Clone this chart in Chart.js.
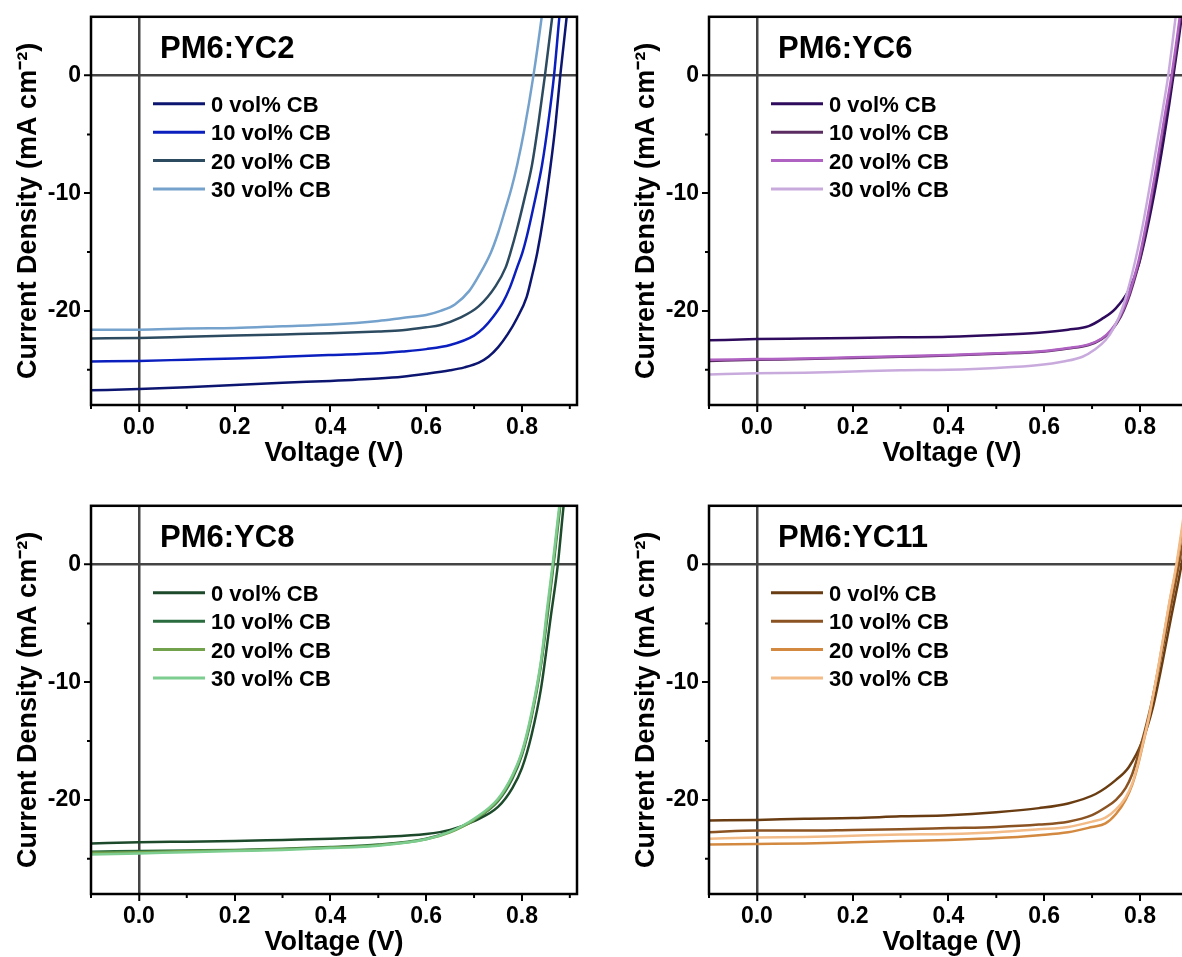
<!DOCTYPE html>
<html>
<head>
<meta charset="utf-8">
<title>J–V curves, PM6:YC blends with CB additive</title>
<script src="https://cdn.jsdelivr.net/npm/chart.js@4.4.1/dist/chart.umd.min.js"></script>
<style>
  html, body { margin: 0; padding: 0; background: #fff; overflow: hidden; width: 1182px; height: 957px; }
  .panel { position: absolute; width: 600px; height: 480px; }
  .panel canvas { display: block; }
</style>
</head>
<body>
<div class="panel" style="left:0px;top:0px"><canvas id="cYC2" width="600" height="480"></canvas></div>
<div class="panel" style="left:618px;top:0px"><canvas id="cYC6" width="600" height="480"></canvas></div>
<div class="panel" style="left:0px;top:489px"><canvas id="cYC8" width="600" height="480"></canvas></div>
<div class="panel" style="left:618px;top:489px"><canvas id="cYC11" width="600" height="480"></canvas></div>
<script>
// ---- series names and axis ticks ----
const seriesLabels = ['0 vol% CB', '10 vol% CB', '20 vol% CB', '30 vol% CB'];
const xTickValues = [0.0, 0.2, 0.4, 0.6, 0.8];
const xTickLabels = ['0.0', '0.2', '0.4', '0.6', '0.8'];
const xMinorTicks = [-0.1, 0.1, 0.3, 0.5, 0.7, 0.9];
const yTickValues = [0, -10, -20];
const yTickLabels = ['0', '-10', '-20'];
const yMinorTicks = [-5, -15, -25];

// ---- PM6:YC2 (voltage in V, current density in mA cm-2) ----
const yc2V0 = [-0.1, 0, 0.1, 0.2, 0.3, 0.4, 0.5, 0.55, 0.6, 0.65, 0.68, 0.71, 0.73, 0.75, 0.77, 0.79, 0.81, 0.82, 0.832, 0.845, 0.86, 0.87, 0.88, 0.894, 0.92];
const yc2J0 = [-26.75, -26.65, -26.5, -26.3, -26.1, -25.95, -25.75, -25.6, -25.35, -25.05, -24.8, -24.4, -23.9, -23.1, -22.0, -20.6, -18.8, -17.2, -15.05, -12.0, -7.6, -4.2, 0, 5.2, 14];
const yc2V1 = [-0.1, 0, 0.1, 0.2, 0.3, 0.4, 0.5, 0.55, 0.6, 0.65, 0.7, 0.72, 0.74, 0.76, 0.775, 0.79, 0.801, 0.81, 0.825, 0.842, 0.855, 0.867, 0.878, 0.89];
const yc2J1 = [-24.3, -24.25, -24.15, -24.05, -23.9, -23.75, -23.6, -23.45, -23.25, -22.9, -22.1, -21.45, -20.5, -19.3, -18.0, -16.3, -15.05, -13.7, -11.0, -7.6, -4.0, 0, 4.9, 10];
const yc2V2 = [-0.1, 0, 0.1, 0.2, 0.3, 0.4, 0.5, 0.55, 0.6, 0.63, 0.67, 0.71, 0.745, 0.766, 0.776, 0.79, 0.805, 0.821, 0.835, 0.848, 0.863, 0.875];
const yc2J2 = [-22.35, -22.3, -22.2, -22.1, -22.0, -21.9, -21.75, -21.65, -21.4, -21.2, -20.6, -19.6, -17.9, -16.3, -15.05, -13.0, -10.5, -7.6, -3.9, 0, 4.9, 9];
const yc2V3 = [-0.1, 0, 0.1, 0.2, 0.3, 0.4, 0.5, 0.55, 0.6, 0.63, 0.66, 0.69, 0.71, 0.735, 0.75, 0.765, 0.778, 0.79, 0.805, 0.824, 0.841, 0.855];
const yc2J3 = [-21.6, -21.6, -21.5, -21.45, -21.3, -21.15, -20.85, -20.6, -20.35, -20.0, -19.45, -18.3, -17.0, -15.05, -13.4, -11.4, -9.6, -7.6, -4.6, 0, 4.9, 9.5];

// ---- PM6:YC6 ----
const yc6V0 = [-0.1, 0, 0.1, 0.2, 0.3, 0.4, 0.5, 0.589, 0.65, 0.693, 0.72, 0.749, 0.777, 0.798, 0.819, 0.84, 0.861, 0.881, 0.91];
const yc6J0 = [-22.5, -22.4, -22.35, -22.3, -22.25, -22.2, -22.05, -21.85, -21.6, -21.3, -20.7, -19.8, -18.2, -16.0, -12.3, -7.8, -2.5, 3.1, 12];
const yc6V1 = [-0.1, 0, 0.1, 0.2, 0.3, 0.4, 0.5, 0.6, 0.65, 0.693, 0.72, 0.742, 0.76, 0.773, 0.786, 0.8, 0.815, 0.836, 0.853, 0.868, 0.883, 0.91];
const yc6J1 = [-24.25, -24.15, -24.1, -24.0, -23.9, -23.8, -23.65, -23.45, -23.2, -22.9, -22.4, -21.6, -20.5, -19.3, -17.7, -15.6, -12.6, -7.8, -3.6, 0, 4.3, 13];
const yc6V2 = [-0.1, 0, 0.1, 0.2, 0.3, 0.4, 0.5, 0.6, 0.65, 0.693, 0.72, 0.74, 0.758, 0.771, 0.784, 0.798, 0.813, 0.834, 0.851, 0.866, 0.881, 0.91];
const yc6J2 = [-24.15, -24.1, -24.05, -23.95, -23.85, -23.75, -23.6, -23.4, -23.15, -22.85, -22.35, -21.6, -20.5, -19.3, -17.7, -15.6, -12.6, -7.8, -3.6, 0, 4.3, 13.5];
const yc6V3 = [-0.1, 0, 0.1, 0.2, 0.3, 0.4, 0.5, 0.589, 0.64, 0.68, 0.705, 0.728, 0.746, 0.763, 0.784, 0.805, 0.826, 0.847, 0.859, 0.874, 0.89];
const yc6J3 = [-25.4, -25.3, -25.25, -25.15, -25.05, -25.0, -24.85, -24.6, -24.3, -23.9, -23.3, -22.5, -21.4, -19.8, -16.8, -12.9, -8.1, -3.05, 0, 4.8, 10];

// ---- PM6:YC8 ----
const yc8V0 = [-0.1, 0, 0.1, 0.2, 0.3, 0.4, 0.5, 0.6, 0.65, 0.7, 0.75, 0.78, 0.8, 0.82, 0.84, 0.86, 0.875, 0.887, 0.91];
const yc8J0 = [-23.7, -23.6, -23.55, -23.5, -23.4, -23.3, -23.15, -22.9, -22.55, -21.8, -20.6, -19.0, -17.3, -14.5, -10.5, -4.5, 0, 5, 13];
const yc8V1 = [-0.1, 0, 0.1, 0.2, 0.3, 0.4, 0.5, 0.6, 0.65, 0.7, 0.75, 0.78, 0.8, 0.82, 0.84, 0.855, 0.866, 0.88, 0.895];
const yc8J1 = [-24.4, -24.35, -24.3, -24.25, -24.15, -24.0, -23.8, -23.3, -22.7, -21.7, -20.1, -18.2, -16.2, -13.0, -8.5, -3.8, 0, 5, 11];
const yc8V2 = [-0.1, 0, 0.1, 0.2, 0.3, 0.4, 0.5, 0.6, 0.65, 0.7, 0.75, 0.78, 0.8, 0.82, 0.84, 0.854, 0.865, 0.879, 0.895];
const yc8J2 = [-24.5, -24.45, -24.35, -24.3, -24.2, -24.05, -23.85, -23.35, -22.75, -21.7, -20.0, -18.0, -16.0, -12.8, -8.3, -3.7, 0, 5, 11.5];
const yc8V3 = [-0.1, 0, 0.1, 0.2, 0.3, 0.4, 0.5, 0.6, 0.65, 0.7, 0.75, 0.78, 0.8, 0.82, 0.84, 0.853, 0.864, 0.878, 0.895];
const yc8J3 = [-24.65, -24.55, -24.45, -24.35, -24.25, -24.1, -23.9, -23.35, -22.7, -21.6, -19.9, -17.9, -15.9, -12.6, -8.1, -3.6, 0, 5, 12];

// ---- PM6:YC11 ----
const yc11V0 = [-0.1, 0, 0.1, 0.2, 0.3, 0.4, 0.5, 0.589, 0.65, 0.7075, 0.75, 0.777, 0.805, 0.826, 0.847, 0.866, 0.88, 0.893, 0.92];
const yc11J0 = [-21.75, -21.7, -21.6, -21.55, -21.4, -21.3, -21.05, -20.7, -20.3, -19.5, -18.3, -17.2, -15.0, -12.3, -8.3, -4.3, -1.5, 1.3, 7.5];
const yc11V1 = [-0.1, 0, 0.1, 0.2, 0.3, 0.4, 0.5, 0.589, 0.65, 0.7, 0.728, 0.75, 0.77, 0.784, 0.805, 0.824, 0.843, 0.86, 0.874, 0.886, 0.92];
const yc11J1 = [-22.75, -22.6, -22.6, -22.55, -22.5, -22.4, -22.3, -22.1, -21.85, -21.3, -20.65, -20.0, -19.0, -17.8, -14.9, -11.8, -8.0, -4.5, -1.6, 1.0, 9];
const yc11V2 = [-0.1, 0, 0.1, 0.2, 0.3, 0.4, 0.5, 0.589, 0.65, 0.7, 0.728, 0.75, 0.77, 0.784, 0.795, 0.805, 0.819, 0.84, 0.861, 0.877, 0.91];
const yc11J2 = [-23.8, -23.75, -23.7, -23.6, -23.5, -23.4, -23.25, -23.0, -22.75, -22.3, -22.0, -21.2, -20.0, -18.7, -17.2, -15.5, -13.0, -8.4, -3.4, 0, 9];
const yc11V3 = [-0.1, 0, 0.1, 0.2, 0.3, 0.4, 0.5, 0.589, 0.65, 0.7, 0.728, 0.75, 0.77, 0.784, 0.795, 0.805, 0.819, 0.84, 0.861, 0.876, 0.91];
const yc11J3 = [-23.3, -23.2, -23.15, -23.05, -22.95, -22.9, -22.75, -22.5, -22.3, -21.85, -21.5, -20.8, -19.8, -18.6, -17.1, -15.4, -12.9, -8.3, -3.3, 0, 9.5];

// ---- line colours per blend ----
const yc2Colors = ['#0c1670', '#0a1fbe', '#2c4a60', '#74a2cc'];
const yc6Colors = ['#2e0b5c', '#5b2c62', '#b062c2', '#c9aadd'];
const yc8Colors = ['#1c4a2a', '#2a6c3e', '#73a24c', '#7ccd8f'];
const yc11Colors = ['#6a3c12', '#8b5222', '#d38a40', '#f2bb88'];

const FONT = '"Liberation Sans", Arial, Helvetica, sans-serif';
Chart.defaults.font.family = FONT;
Chart.defaults.color = '#000';

const isZero = v => v !== undefined && Math.abs(v) < 1e-9;

// frame, minor ticks, panel title and in-plot legend
const decor = {
  id: 'decor',
  afterDatasetsDraw(chart, args, opts) {
    const { ctx, chartArea: a, scales: { x, y } } = chart;
    ctx.save();
    ctx.strokeStyle = '#000';
    ctx.lineWidth = 2;
    ctx.beginPath();
    xMinorTicks.forEach(v => {
      const px = x.getPixelForValue(v);
      ctx.moveTo(px, a.bottom);
      ctx.lineTo(px, a.bottom + 4);
    });
    yMinorTicks.forEach(v => {
      const py = y.getPixelForValue(v);
      ctx.moveTo(a.left, py);
      ctx.lineTo(a.left - 4, py);
    });
    ctx.stroke();

    ctx.lineWidth = 2.5;
    ctx.strokeStyle = '#000';
    ctx.strokeRect(a.left, a.top, a.right - a.left, a.bottom - a.top);

    ctx.fillStyle = '#000';
    ctx.textAlign = 'left';
    ctx.textBaseline = 'alphabetic';
    ctx.font = 'bold 31px ' + FONT;
    ctx.fillText(opts.title, a.left + 69, a.top + 41);

    ctx.font = 'bold 22px ' + FONT;
    chart.data.datasets.forEach((ds, i) => {
      const yy = a.top + 87 + i * 28.4;
      ctx.strokeStyle = ds.borderColor;
      ctx.lineWidth = 3;
      ctx.beginPath();
      ctx.moveTo(a.left + 62, yy);
      ctx.lineTo(a.left + 114, yy);
      ctx.stroke();
      ctx.fillText(ds.label, a.left + 120, yy + 8);
    });
    ctx.restore();
  }
};

function points(vs, js) {
  return vs.map((v, i) => ({ x: v, y: js[i] }));
}

function makePanel(id, title, colors, vSets, jSets) {
  const datasets = seriesLabels.map((label, i) => ({
    label,
    data: points(vSets[i], jSets[i]),
    borderColor: colors[i],
    borderWidth: 2.5,
    pointRadius: 0,
    cubicInterpolationMode: 'monotone',
    fill: false,
    clip: 0,
    order: seriesLabels.length - i
  }));
  const axisTitleFont = { size: 27, weight: 'bold', family: FONT };
  const tickFont = { size: 23, weight: 'bold', family: FONT };
  new Chart(document.getElementById(id), {
    type: 'line',
    data: { datasets },
    plugins: [decor],
    options: {
      responsive: false,
      animation: false,
      devicePixelRatio: 1,
      events: [],
      layout: { padding: { top: 16, right: 23, bottom: 0, left: 0 } },
      plugins: {
        legend: { display: false },
        tooltip: { enabled: false },
        decor: { title }
      },
      scales: {
        x: {
          type: 'linear',
          min: -0.1,
          max: 0.915,
          afterBuildTicks: s => { s.ticks = xTickValues.map(v => ({ value: v })); },
          afterFit: s => { s.height = 75; },
          border: { display: false },
          grid: {
            drawOnChartArea: true,
            drawTicks: true,
            tickLength: 7,
            tickWidth: 2,
            tickColor: '#000',
            color: c => (c.tick && isZero(c.tick.value)) ? '#444' : 'rgba(0,0,0,0)',
            lineWidth: c => (c.tick && isZero(c.tick.value)) ? 2.5 : 0
          },
          ticks: {
            font: tickFont,
            color: '#000',
            padding: 2,
            autoSkip: false,
            maxRotation: 0,
            callback: (v, i) => xTickLabels[i]
          },
          title: {
            display: true,
            text: 'Voltage (V)',
            font: axisTitleFont,
            color: '#000',
            padding: { top: 0, bottom: 10 }
          }
        },
        y: {
          type: 'linear',
          min: -28,
          max: 5,
          afterBuildTicks: s => { s.ticks = yTickValues.map(v => ({ value: v })); },
          afterFit: s => { s.width = 91; },
          border: { display: false },
          grid: {
            drawOnChartArea: true,
            drawTicks: true,
            tickLength: 7,
            tickWidth: 2,
            tickColor: '#000',
            color: c => (c.tick && isZero(c.tick.value)) ? '#444' : 'rgba(0,0,0,0)',
            lineWidth: c => (c.tick && isZero(c.tick.value)) ? 2.5 : 0
          },
          ticks: {
            font: tickFont,
            color: '#000',
            padding: 3,
            autoSkip: false,
            callback: (v, i) => yTickLabels[i]
          },
          title: {
            display: true,
            text: 'Current Density (mA cm\u207B\u00B2)',
            font: axisTitleFont,
            color: '#000',
            padding: { top: 12, bottom: 0 }
          }
        }
      }
    }
  });
}

makePanel('cYC2', 'PM6:YC2', yc2Colors, [yc2V0, yc2V1, yc2V2, yc2V3], [yc2J0, yc2J1, yc2J2, yc2J3]);
makePanel('cYC6', 'PM6:YC6', yc6Colors, [yc6V0, yc6V1, yc6V2, yc6V3], [yc6J0, yc6J1, yc6J2, yc6J3]);
makePanel('cYC8', 'PM6:YC8', yc8Colors, [yc8V0, yc8V1, yc8V2, yc8V3], [yc8J0, yc8J1, yc8J2, yc8J3]);
makePanel('cYC11', 'PM6:YC11', yc11Colors, [yc11V0, yc11V1, yc11V2, yc11V3], [yc11J0, yc11J1, yc11J2, yc11J3]);
</script>
</body>
</html>
